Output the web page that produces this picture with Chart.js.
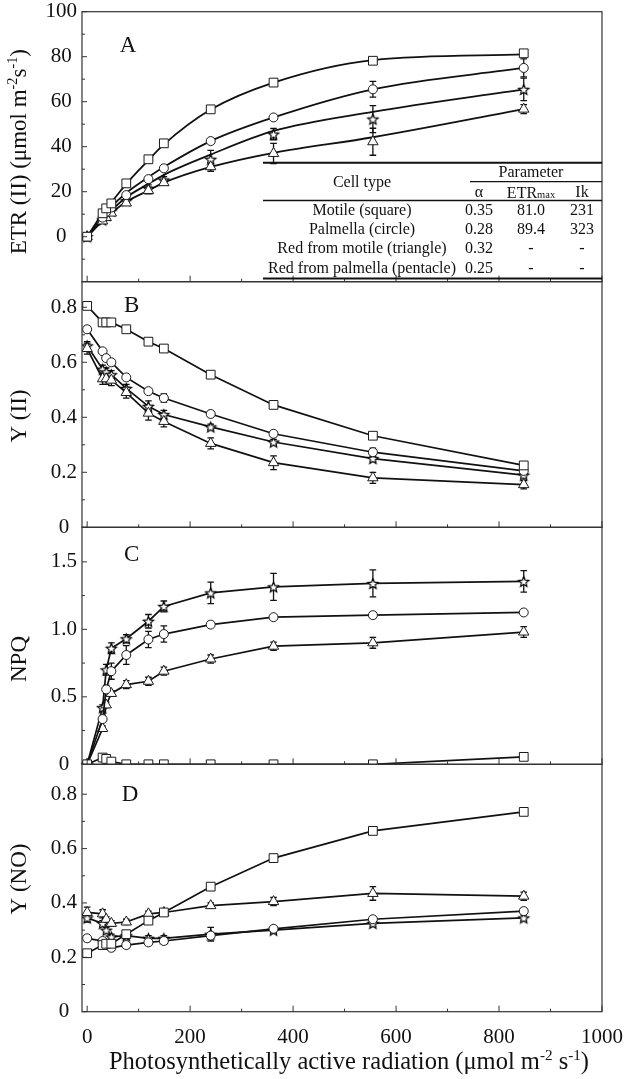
<!DOCTYPE html>
<html>
<head>
<meta charset="utf-8">
<script src="https://cdn.jsdelivr.net/npm/chart.js@4.4.1/dist/chart.umd.min.js"></script>
<style>
  html, body { margin: 0; padding: 0; background: #fff; }
  #wrap { position: relative; width: 642px; height: 1079px; overflow: hidden; background: #fff; }
  canvas { position: absolute; left: 0; }
</style>
</head>
<body>
<div id="wrap">
  <canvas id="cA"></canvas>
  <canvas id="cB"></canvas>
  <canvas id="cC"></canvas>
  <canvas id="cD"></canvas>
</div>
<script>
const FONT = '"Liberation Serif", "Times New Roman", serif';

// light steps (PAR, µmol m-2 s-1)
const par = [0, 30, 37, 47, 76, 119, 149, 240, 362, 555, 848];
const xTicks = [0, 200, 400, 600, 800, 1000];
const xLabels = ['0', '200', '400', '600', '800', '1000'];
const xMinor = [100, 300, 500, 700, 900];

// A - ETR(II)
const etrSq = [0, 10.4, 12.6, 14.8, 23.7, 34.4, 41.5, 56.6, 68.5, 78.2, 81.5];
const etrCi = [0, 8.5, 11, 13, 18.5, 25.6, 30.4, 42.5, 53, 65.5, 75];
const etrTr = [0, 7, 8.5, 10.5, 15, 20.5, 24, 31.1, 37, 42.2, 56.7];
const etrSt = [0, 7.5, 9.5, 11.5, 16, 21.5, 25.2, 34.4, 45.6, 52.3, 65.5];
const etrSqErr = [0.5, 1, 1, 1, 1, 1, 1, 1, 1, 1, 1];
const etrCiErr = [0.5, 1, 1, 1, 1, 1, 1, 1, 1, 3.5, 4];
const etrTrErr = [0.5, 1, 1, 1, 1, 1.5, 1, 2, 4.5, 6, 2];
const etrStErr = [0.5, 1, 1, 1, 1, 1.5, 1.5, 4, 2.5, 6, 5];
// fitted light-response curves
const fitSq = [0, 10.5, 12.8, 15.3, 23.5, 34, 41, 56.5, 68.5, 78.5, 81];
const fitCi = [0, 8.7, 10.6, 13.3, 19.5, 26.5, 31, 42.5, 53, 65.5, 75];
const fitTr = [0, 7, 8.5, 10.5, 15.5, 20.5, 24, 31, 37.3, 44.2, 56.7];
const fitSt = [0, 7.5, 9.3, 11.6, 17.5, 23.5, 27.5, 36.5, 47, 55.5, 65.5];
const yTicksA = [0, 20, 40, 60, 80, 100];
const yLabelsA = ['0', '20', '40', '60', '80', '100'];
const yMinorA = [-10, 10, 30, 50, 70, 90];

// table in panel A
const cellTypes = ['Motile (square)', 'Palmella (circle)', 'Red from motile (triangle)', 'Red from palmella (pentacle)'];
const alphaVals = ['0.35', '0.28', '0.32', '0.25'];
const etrMaxVals = ['81.0', '89.4', '-', '-'];
const ikVals = ['231', '323', '-', '-'];

// B - Y(II)
const y2Sq = [0.805, 0.745, 0.745, 0.745, 0.72, 0.675, 0.65, 0.555, 0.445, 0.333, 0.225];
const y2Ci = [0.72, 0.64, 0.615, 0.6, 0.545, 0.495, 0.47, 0.412, 0.34, 0.273, 0.205];
const y2Tr = [0.65, 0.54, 0.54, 0.535, 0.49, 0.415, 0.385, 0.305, 0.235, 0.18, 0.155];
const y2St = [0.66, 0.575, 0.565, 0.555, 0.505, 0.44, 0.41, 0.365, 0.31, 0.25, 0.19];
const y2SqErr = [0.01, 0.01, 0.01, 0.01, 0.01, 0.01, 0.01, 0.01, 0.01, 0.01, 0.01];
const y2CiErr = [0.01, 0.01, 0.01, 0.01, 0.01, 0.01, 0.015, 0.01, 0.01, 0.015, 0.01];
const y2TrErr = [0.02, 0.02, 0.02, 0.02, 0.02, 0.025, 0.02, 0.02, 0.025, 0.02, 0.015];
const y2StErr = [0.015, 0.015, 0.015, 0.015, 0.015, 0.02, 0.015, 0.01, 0.01, 0.01, 0.01];
const yTicksB = [0, 0.2, 0.4, 0.6, 0.8];
const yLabelsB = ['0', '0.2', '0.4', '0.6', '0.8'];
const yMinorB = [0.1, 0.3, 0.5, 0.7];

// C - NPQ
const npqSq = [0, 0.05, 0.04, 0.02, 0, 0, 0, 0, 0, 0, 0.055];
const npqCi = [0, 0.335, 0.555, 0.69, 0.81, 0.925, 0.965, 1.035, 1.09, 1.105, 1.125];
const npqTr = [0, 0.265, 0.44, 0.525, 0.59, 0.615, 0.69, 0.78, 0.875, 0.9, 0.98];
const npqSt = [0, 0.42, 0.7, 0.86, 0.93, 1.06, 1.17, 1.27, 1.315, 1.34, 1.355];
const npqSqErr = [0, 0.01, 0.01, 0.01, 0, 0, 0, 0, 0, 0, 0.015];
const npqCiErr = [0, 0.02, 0.03, 0.06, 0.07, 0.06, 0.06, 0.015, 0.015, 0.02, 0.02];
const npqTrErr = [0, 0.02, 0.02, 0.02, 0.03, 0.03, 0.03, 0.03, 0.03, 0.04, 0.04];
const npqStErr = [0, 0.02, 0.04, 0.04, 0.03, 0.05, 0.04, 0.08, 0.1, 0.1, 0.08];
const yTicksC = [0, 0.5, 1.0, 1.5];
const yLabelsC = ['0', '0.5', '1.0', '1.5'];
const yMinorC = [0.25, 0.75, 1.25];

// D - Y(NO)
const ynoSq = [0.215, 0.245, 0.25, 0.25, 0.285, 0.335, 0.365, 0.46, 0.565, 0.665, 0.735];
const ynoCi = [0.27, 0.26, 0.245, 0.235, 0.245, 0.255, 0.26, 0.28, 0.305, 0.34, 0.37];
const ynoTr = [0.365, 0.36, 0.34, 0.325, 0.33, 0.36, 0.365, 0.39, 0.405, 0.435, 0.425];
const ynoSt = [0.345, 0.325, 0.3, 0.275, 0.28, 0.27, 0.27, 0.285, 0.3, 0.325, 0.345];
const ynoSqErr = [0.01, 0.01, 0.01, 0.01, 0.01, 0.01, 0.01, 0.01, 0.01, 0.01, 0.01];
const ynoCiErr = [0.01, 0.01, 0.01, 0.01, 0.01, 0.01, 0.01, 0.01, 0.01, 0.01, 0.01];
const ynoTrErr = [0.02, 0.015, 0.01, 0.01, 0.01, 0.01, 0.01, 0.01, 0.015, 0.025, 0.015];
const ynoStErr = [0.015, 0.01, 0.01, 0.01, 0.01, 0.01, 0.01, 0.025, 0.01, 0.01, 0.01];
const yTicksD = [0, 0.2, 0.4, 0.6, 0.8];
const yLabelsD = ['0', '0.2', '0.4', '0.6', '0.8'];
const yMinorD = [0.1, 0.3, 0.5, 0.7];

// open pentacle marker
function starImg(r) {
  const c = document.createElement('canvas');
  const s = Math.ceil(r * 2 + 4);
  c.width = c.height = s;
  const g = c.getContext('2d');
  g.translate(s / 2, s / 2 + 0.6);
  g.beginPath();
  for (let i = 0; i < 10; i++) {
    const rr = i % 2 ? r * 0.45 : r;
    const a = -Math.PI / 2 + i * Math.PI / 5;
    g.lineTo(rr * Math.cos(a), rr * Math.sin(a));
  }
  g.closePath();
  g.fillStyle = '#fff';
  g.fill();
  g.strokeStyle = '#000';
  g.lineWidth = 1.2;
  g.stroke();
  return c;
}
const STAR = starImg(5.4);
const MK = {
  sq: { ps: 'rect', r: 6.2 },
  ci: { ps: 'circle', r: 4.5 },
  tr: { ps: 'triangle', r: 6 },
  st: { ps: STAR, r: 5.5 }
};

function series(ys, mk, errs, extra) {
  return Object.assign({
    data: par.map((x, i) => ({ x: x, y: ys[i] })),
    errs: errs,
    borderColor: '#111',
    borderWidth: 1.7,
    pointBackgroundColor: '#fff',
    pointBorderColor: '#1a1a1a',
    pointBorderWidth: 1,
    pointStyle: mk.ps,
    pointRadius: mk.r,
    tension: 0
  }, extra || {});
}
function fitLine(ys) {
  return {
    data: par.map((x, i) => ({ x: x, y: ys[i] })),
    borderColor: '#111',
    borderWidth: 1.8,
    pointRadius: 0,
    cubicInterpolationMode: 'monotone'
  };
}

function setFont(ctx, size) { ctx.font = size + 'px ' + FONT; }
// text pieces: [text, 1 = superscript]
function richWidth(ctx, parts, size) {
  let w = 0;
  parts.forEach(p => {
    setFont(ctx, p[1] ? size * 0.62 : size);
    w += ctx.measureText(p[0]).width;
  });
  return w;
}
function drawRich(ctx, parts, cx, cy, size) {
  let x = cx - richWidth(ctx, parts, size) / 2;
  const base = cy + size * 0.33;
  ctx.textAlign = 'left';
  ctx.textBaseline = 'alphabetic';
  parts.forEach(p => {
    setFont(ctx, p[1] ? size * 0.62 : size);
    const y = p[1] === 1 ? base - size * 0.38 : base;
    ctx.fillText(p[0], x, y);
    x += ctx.measureText(p[0]).width;
  });
}

const deco = {
  id: 'deco',
  beforeDatasetsDraw(chart) {
    const ctx = chart.ctx, a = chart.chartArea, ys = chart.scales.y;
    ctx.save();
    ctx.beginPath();
    ctx.rect(a.left, a.top, a.right - a.left, a.bottom - a.top);
    ctx.clip();
    ctx.strokeStyle = '#111';
    ctx.lineWidth = 1.3;
    chart.data.datasets.forEach((ds, i) => {
      if (!ds.errs) return;
      chart.getDatasetMeta(i).data.forEach((pt, j) => {
        const e = ds.errs[j];
        if (!e) return;
        const v = ds.data[j].y;
        const y1 = ys.getPixelForValue(v + e), y2 = ys.getPixelForValue(v - e);
        ctx.beginPath();
        ctx.moveTo(pt.x, y1); ctx.lineTo(pt.x, y2);
        ctx.moveTo(pt.x - 3.3, y1); ctx.lineTo(pt.x + 3.3, y1);
        ctx.moveTo(pt.x - 3.3, y2); ctx.lineTo(pt.x + 3.3, y2);
        ctx.stroke();
      });
    });
    ctx.restore();
  },
  afterDraw(chart, args, o) {
    const ctx = chart.ctx, a = chart.chartArea;
    const xs = chart.scales.x, ys = chart.scales.y;
    const off = o.offY;
    ctx.save();
    // frame
    ctx.strokeStyle = '#333';
    ctx.lineWidth = 1.2;
    ctx.strokeRect(a.left, a.top, a.right - a.left, a.bottom - a.top);
    // inward ticks
    ctx.lineWidth = 1;
    ctx.beginPath();
    xTicks.forEach(v => { const p = xs.getPixelForValue(v); ctx.moveTo(p, a.bottom); ctx.lineTo(p, a.bottom - 6); });
    xMinor.forEach(v => { const p = xs.getPixelForValue(v); ctx.moveTo(p, a.bottom); ctx.lineTo(p, a.bottom - 3); });
    o.yMajor.forEach(v => { const p = ys.getPixelForValue(v); ctx.moveTo(a.left, p); ctx.lineTo(a.left + 5, p); });
    o.yMinor.forEach(v => { const p = ys.getPixelForValue(v); ctx.moveTo(a.left, p); ctx.lineTo(a.left + 3, p); });
    ctx.stroke();
    ctx.fillStyle = '#111';
    // panel letter
    setFont(ctx, 23);
    ctx.textAlign = 'center';
    ctx.textBaseline = 'middle';
    ctx.fillText(o.letter, o.letterX, o.letterY - off);
    // y-axis title
    ctx.save();
    ctx.translate(18, o.titleY - off);
    ctx.rotate(-Math.PI / 2);
    drawRich(ctx, o.title, 0, 0, 23);
    ctx.restore();
    if (o.xTitle) {
      drawRich(ctx, o.xTitle, 349, 1061 - off, 24.5);
    }
    if (o.table) drawTable(ctx, off);
    ctx.restore();
  }
};

function drawTable(ctx, off) {
  const L = 263, R = 602;
  ctx.strokeStyle = '#111';
  const hl = (y, x1, x2, w) => {
    ctx.lineWidth = w;
    ctx.beginPath(); ctx.moveTo(x1, y - off); ctx.lineTo(x2, y - off); ctx.stroke();
  };
  hl(162.7, L, R, 2);
  hl(181.7, 470, R, 1.2);
  hl(200.5, L, R, 1.5);
  hl(278.5, L, R, 2);
  ctx.fillStyle = '#111';
  ctx.textAlign = 'center';
  ctx.textBaseline = 'middle';
  setFont(ctx, 16);
  ctx.fillText('Parameter', 531, 172.3 - off);
  ctx.fillText('Cell type', 362, 182.7 - off);
  ctx.fillText('\u03b1', 479, 192.7 - off);
  ctx.fillText('Ik', 582, 192.7 - off);
  // ETRmax with small "max"
  setFont(ctx, 16);
  const w1 = ctx.measureText('ETR').width;
  setFont(ctx, 10.5);
  const w2 = ctx.measureText('max').width;
  const x = 531 - (w1 + w2) / 2;
  ctx.textAlign = 'left';
  ctx.textBaseline = 'alphabetic';
  setFont(ctx, 16);
  ctx.fillText('ETR', x, 192.7 + 5.5 - off);
  setFont(ctx, 10.5);
  ctx.fillText('max', x + w1, 192.7 + 5.5 - off);
  ctx.textAlign = 'center';
  ctx.textBaseline = 'middle';
  setFont(ctx, 16);
  const rowY = [211, 229.8, 249, 268.3];
  cellTypes.forEach((c, i) => {
    ctx.fillText(c, 362, rowY[i] - off);
    ctx.fillText(alphaVals[i], 479, rowY[i] - off);
    ctx.fillText(etrMaxVals[i], 531, rowY[i] - off);
    ctx.fillText(ikVals[i], 582, rowY[i] - off);
  });
}

function makeChart(id, cfg) {
  const cv = document.getElementById(id);
  cv.width = 642;
  cv.height = cfg.h;
  cv.style.top = cfg.top + 'px';
  cfg.deco.offY = cfg.top;
  return new Chart(cv, {
    type: 'line',
    data: { datasets: cfg.datasets },
    options: {
      responsive: false,
      animation: false,
      devicePixelRatio: 1,
      layout: { padding: { top: cfg.padTop, bottom: cfg.padBottom, left: 0, right: 40 } },
      plugins: { legend: { display: false }, tooltip: { enabled: false }, deco: cfg.deco },
      scales: {
        x: {
          type: 'linear', min: -10, max: 1000, display: !!cfg.xH,
          afterBuildTicks: s => { s.ticks = xTicks.map(v => ({ value: v })); },
          afterFit: s => { s.height = cfg.xH || 0; },
          grid: { display: false, drawTicks: false },
          border: { display: false },
          ticks: { autoSkip: false, maxRotation: 0, padding: 13, color: '#111',
                   font: { family: FONT, size: 21 }, callback: (v, i) => xLabels[i] }
        },
        y: {
          min: cfg.ymin, max: cfg.ymax,
          afterBuildTicks: s => { s.ticks = cfg.yt.map(v => ({ value: v })); },
          afterFit: s => { s.width = 82; },
          grid: { display: false, drawTicks: false },
          border: { display: false },
          ticks: { autoSkip: false, crossAlign: 'center', padding: 5, color: '#111',
                   font: { family: FONT, size: 21 }, callback: (v, i) => cfg.yl[i] }
        }
      }
    },
    plugins: [deco]
  });
}

const noLine = { showLine: false };

// A: chart area 11.7 .. 281.7
makeChart('cA', {
  top: -10, h: 312, padTop: 21.7, padBottom: 20.3,
  ymin: -20, ymax: 100, yt: yTicksA, yl: yLabelsA,
  datasets: [
    series(etrSq, MK.sq, etrSqErr, noLine),
    series(etrCi, MK.ci, etrCiErr, noLine),
    series(etrTr, MK.tr, etrTrErr, noLine),
    series(etrSt, MK.st, etrStErr, noLine),
    fitLine(fitSq), fitLine(fitCi), fitLine(fitTr), fitLine(fitSt)
  ],
  deco: { letter: 'A', letterX: 128, letterY: 46, titleY: 151.7, yMajor: yTicksA, yMinor: yMinorA, table: true,
          title: [['ETR (II) (\u03bcmol m'], ['-2', 1], ['s'], ['-1', 1], [')']] }
});

// B: chart area 281.7 .. 527.3
makeChart('cB', {
  top: 262, h: 286, padTop: 19.7, padBottom: 20.7,
  ymin: 0, ymax: 0.893, yt: yTicksB, yl: yLabelsB,
  datasets: [
    series(y2Sq, MK.sq, y2SqErr), series(y2Ci, MK.ci, y2CiErr),
    series(y2Tr, MK.tr, y2TrErr), series(y2St, MK.st, y2StErr)
  ],
  deco: { letter: 'B', letterX: 131.7, letterY: 306, titleY: 416, yMajor: yTicksB, yMinor: yMinorB,
          title: [['Y (II)']] }
});

// C: chart area 527.3 .. 764.3
const clipC = { clip: { left: 8, right: 8, top: 8, bottom: 0 } };
makeChart('cC', {
  top: 507, h: 278, padTop: 20.3, padBottom: 20.7,
  ymin: 0, ymax: 1.756, yt: yTicksC, yl: yLabelsC,
  datasets: [
    series(npqSq, MK.sq, npqSqErr, clipC), series(npqCi, MK.ci, npqCiErr, clipC),
    series(npqTr, MK.tr, npqTrErr, clipC), series(npqSt, MK.st, npqStErr, clipC)
  ],
  deco: { letter: 'C', letterX: 131.7, letterY: 555, titleY: 659, yMajor: yTicksC, yMinor: yMinorC,
          title: [['NPQ']] }
});

// D: chart area 764.3 .. 1011.7, x axis below
makeChart('cD', {
  top: 744, h: 335, padTop: 20.3, padBottom: 0, xH: 67.3,
  ymin: 0, ymax: 0.91, yt: yTicksD, yl: yLabelsD,
  datasets: [
    series(ynoSq, MK.sq, ynoSqErr), series(ynoCi, MK.ci, ynoCiErr),
    series(ynoTr, MK.tr, ynoTrErr), series(ynoSt, MK.st, ynoStErr)
  ],
  deco: { letter: 'D', letterX: 130, letterY: 795, titleY: 879, yMajor: yTicksD, yMinor: yMinorD,
          title: [['Y (NO)']],
          xTitle: [['Photosynthetically active radiation (\u03bcmol m'], ['-2', 1], [' s'], ['-1', 1], [')']] }
});
</script>
</body>
</html>
